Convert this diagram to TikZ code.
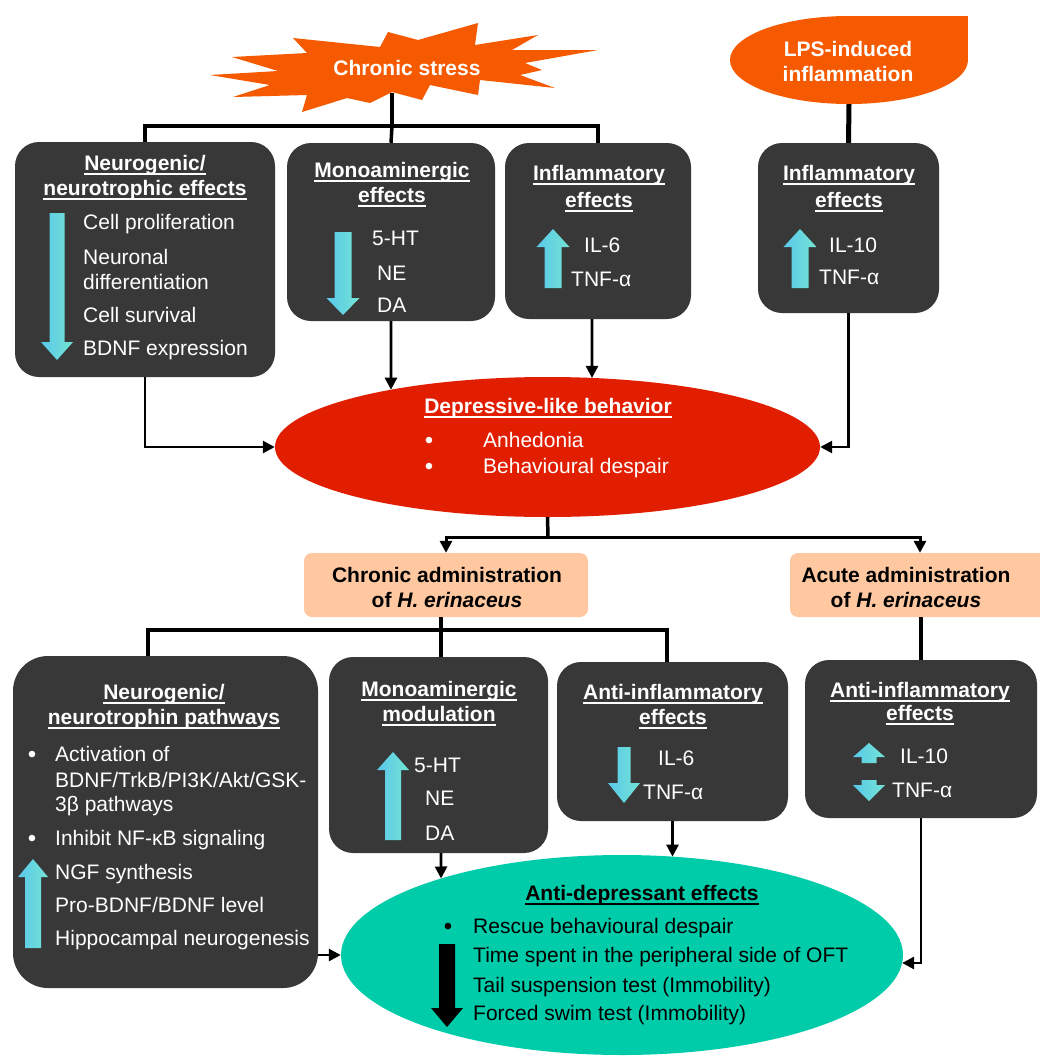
\documentclass[tikz,border=0pt]{standalone}
\usepackage{fontspec}
\setmainfont{Liberation Sans}
\usetikzlibrary{shapes.geometric,arrows.meta,intersections}
\definecolor{orng}{RGB}{245,90,0}
\definecolor{boxg}{RGB}{56,56,56}
\definecolor{redE}{RGB}{225,30,0}
\definecolor{peach}{RGB}{255,200,160}
\definecolor{tealE}{RGB}{0,204,170}
\definecolor{arrL}{RGB}{90,200,235}
\definecolor{arrR}{RGB}{115,228,212}
\newcommand\undl[1]{\setbox0\hbox{#1}\rlap{\rule[-4.5pt]{\wd0}{1.8pt}}\box0}
\newcommand\blkarrow[7][cyanfill]{\path[#1] ({#2-#6},#3) -- ({#2+#6},#3) -- ({#2+#6},#4) -- ({#2+#7},#4) -- (#2,#5) -- ({#2-#7},#4) -- ({#2-#6},#4) -- cycle;}
\tikzset{
  cyanfill/.style={left color=arrL, right color=arrR},
  darkbox/.style={fill=boxg, rounded corners=24pt, inner sep=0pt},
  ttl/.style={font=\fontsize{21}{25}\selectfont\bfseries, text=white, anchor=base, inner sep=0pt},
  itm/.style={font=\fontsize{21}{25}\selectfont, text=white, anchor=base west, inner sep=0pt},
  bul/.style={font=\fontsize{24}{25}\selectfont, text=white, anchor=base, inner sep=0pt},
  stemln/.style={line width=3.5pt},
  arr/.style={line width=2.6pt, -{Triangle[length=12pt,width=12pt]}},
}
\begin{document}
\begin{tikzpicture}[x=1pt,y=-1pt]
\fill[white] (0,0) rectangle (1040,1061);
\useasboundingbox (0,0) rectangle (1040,1061);

% ---------- Chronic stress starburst
\fill[orng] (210,75) -- (278,71) -- (232,57) -- (307,53) -- (293,38) -- (380,47) -- (388,32) -- (418,40) -- (478,23) -- (475,45) -- (538,35) -- (512,50) -- (598,50) -- (525,63) -- (542,70) -- (520,75) -- (555,88) -- (480,80) -- (478,95) -- (430,85) -- (422,100) -- (392,92) -- (370,103) -- (347,98) -- (302,112) -- (307,95) -- (233,97) -- (270,85) -- cycle;
\node[ttl, anchor=center] (cs) at (407,68) {Chronic stress};
\coordinate (csb) at (392,93);
\coordinate (bar1) at (392,126);

% ---------- LPS
\fill[orng] (849,16) rectangle (968,60);
\node[ellipse, fill=orng, minimum width=238pt, minimum height=88pt, inner sep=0pt] (lps) at (849,60) {};
\node[ttl] (lpst1) at (848,56) {LPS-induced};
\node[ttl] (lpst2) at (848,81) {inflammation};

% ---------- upper boxes
\node[darkbox, minimum width=260pt, minimum height=235pt] (box1) at (145,259.5) {};
\node[darkbox, minimum width=208pt, minimum height=178pt] (box2) at (391,232) {};
\node[darkbox, minimum width=186pt, minimum height=176pt] (box3) at (598,231) {};
\node[darkbox, minimum width=181pt, minimum height=170pt] (box4) at (848.5,228) {};

% box1 text
\node[ttl] (b1t1) at (145,170) {\undl{Neurogenic/}};
\node[ttl] (b1t2) at (145,195) {\undl{neurotrophic effects}};
\node[itm] (b1i1) at (83,229) {Cell proliferation};
\node[itm] (b1i2) at (83,264) {Neuronal};
\node[itm] (b1i3) at (83,289) {differentiation};
\node[itm] (b1i4) at (83,322) {Cell survival};
\node[itm] (b1i5) at (83,355) {BDNF expression};
\blkarrow{57}{213}{342}{360}{7.5}{16}

% box2 text
\node[ttl] (b2t1) at (392,177) {\undl{Monoaminergic}};
\node[ttl] (b2t2) at (392,202) {\undl{effects}};
\node[itm] (b2i1) at (372,245) {5-HT};
\node[itm] (b2i2) at (377,280) {NE};
\node[itm] (b2i3) at (377,312) {DA};
\blkarrow{343}{232}{298}{315}{8.5}{16.5}

% box3 text
\node[ttl] (b3t1) at (599,180) {\undl{Inflammatory}};
\node[ttl] (b3t2) at (599,207) {\undl{effects}};
\node[itm] (b3i1) at (584,252) {IL-6};
\node[itm] (b3i2) at (571,286) {TNF-α};
\blkarrow{553}{288}{247}{229}{8.5}{16.5}

% box4 text
\node[ttl] (b4t1) at (849,180) {\undl{Inflammatory}};
\node[ttl] (b4t2) at (849,207) {\undl{effects}};
\node[itm] (b4i1) at (829,252) {IL-10};
\node[itm] (b4i2) at (819,284) {TNF-α};
\blkarrow{800}{288}{247}{229}{8.5}{16.5}

% ---------- depressive ellipse
\node[ellipse, fill=redE, minimum width=545pt, minimum height=140pt, inner sep=0pt] (dep) at (547.5,447) {};
\path[name path=depP] (547.5,447) ellipse [x radius=272.5pt, y radius=70pt];
\node[ttl] (dt) at (548,413) {\undl{Depressive-like behavior}};
\node[bul] (db1) at (429,448) {\textbullet};
\node[itm] (di1) at (483,447) {Anhedonia};
\node[bul] (db2) at (429,474) {\textbullet};
\node[itm] (di2) at (483,473) {Behavioural despair};

% ---------- upper connectors
\draw[stemln] (csb) -- (bar1);
\draw[stemln] (box1.north) |- (bar1) -| (box3.north);
\draw[stemln] (bar1) -- (box2.north);
\draw[line width=5pt] (lps.south) -- (box4.north);
\draw[arr] (box1.south) |- (dep.west);
\draw[arr] (box4.south) |- (dep.east);
\path[name path=v2] (box2.south) -- ++(0,120);
\draw[arr, name intersections={of=depP and v2, by=i2}] (box2.south) -- (i2);
\path[name path=v3] ([xshift=-6pt]box3.south) -- ++(0,120);
\draw[arr, name intersections={of=depP and v3, by=i3}] ([xshift=-6pt]box3.south) -- (i3);

% ---------- administration boxes
\node[fill=peach, rounded corners=8pt, minimum width=284pt, minimum height=64pt, inner sep=0pt] (chr) at (446,585) {};
\node[fill=peach, rounded corners=8pt, minimum width=260pt, minimum height=64pt, inner sep=0pt] (acu) at (920,585) {};
\node[font=\fontsize{21}{25}\selectfont\bfseries, align=center, inner sep=0pt] (chrt) at (447,587) {Chronic administration\\of \textit{H. erinaceus}};
\node[font=\fontsize{21}{25}\selectfont\bfseries, align=center, inner sep=0pt] (acut) at (906,587) {Acute administration\\of \textit{H. erinaceus}};
\coordinate (split) at (548,537);
\draw[stemln] (dep.south) -- (split);
\draw[arr, line width=3pt] (split) -| (chr.north);
\draw[arr, line width=3pt] (split) -| (acu.north);

% ---------- lower boxes
\node[darkbox, rounded corners=35pt, minimum width=305pt, minimum height=332pt] (box5) at (165.5,822) {};
\node[darkbox, minimum width=219pt, minimum height=196pt] (box6) at (438.5,755) {};
\node[darkbox, minimum width=231pt, minimum height=159pt] (box7) at (672.5,741.5) {};
\node[darkbox, minimum width=232pt, minimum height=158pt] (box8) at (921,739) {};

\coordinate (bar2) at (441,630);
\draw[stemln] (chr.south -| bar2) -- (bar2);
\draw[stemln] ([xshift=-17.5pt]box5.north) |- (bar2) -| ([xshift=-5.5pt]box7.north);
\draw[stemln] (bar2) -- (bar2 |- box6.north);
\draw[stemln] (acu.south -| box8.north) -- (box8.north);

% box5 text
\node[ttl] (b5t1) at (164,699) {\undl{Neurogenic/}};
\node[ttl] (b5t2) at (164,724) {\undl{neurotrophin pathways}};
\node[bul] (b5b1) at (32,762) {\textbullet};
\node[itm] (b5i1) at (55,761) {Activation of};
\node[itm] (b5i2) at (55,787) {BDNF/TrkB/PI3K/Akt/GSK-};
\node[itm] (b5i3) at (55,811) {3β pathways};
\node[bul] (b5b2) at (32,846) {\textbullet};
\node[itm] (b5i4) at (55,845) {Inhibit NF-κB signaling};
\node[itm] (b5i5) at (55,879) {NGF synthesis};
\node[itm] (b5i6) at (55,912) {Pro-BDNF/BDNF level};
\node[itm] (b5i7) at (55,945) {Hippocampal neurogenesis};
\blkarrow{33}{948}{877}{859}{8}{15}

% box6 text
\node[ttl] (b6t1) at (439,696) {\undl{Monoaminergic}};
\node[ttl] (b6t2) at (439,721) {\undl{modulation}};
\node[itm] (b6i1) at (414,772) {5-HT};
\node[itm] (b6i2) at (425,805) {NE};
\node[itm] (b6i3) at (425,840) {DA};
\blkarrow{393}{840}{770}{752}{8}{16}

% box7 text
\node[ttl] (b7t1) at (673,699) {\undl{Anti-inflammatory}};
\node[ttl] (b7t2) at (673,724) {\undl{effects}};
\node[itm] (b7i1) at (658,765) {IL-6};
\node[itm] (b7i2) at (643,799) {TNF-α};
\blkarrow{624}{747}{783}{803}{6.5}{16}

% box8 text
\node[ttl] (b8t1) at (920,697) {\undl{Anti-inflammatory}};
\node[ttl] (b8t2) at (920,720) {\undl{effects}};
\node[itm] (b8i1) at (900,763) {IL-10};
\node[itm] (b8i2) at (892,797) {TNF-α};
\blkarrow{869}{763}{757}{743}{7.5}{16}
\blkarrow{869}{780}{785}{801}{7.5}{16}

% ---------- anti-depressant ellipse
\node[ellipse, fill=tealE, minimum width=562pt, minimum height=200pt, inner sep=0pt] (adt) at (622,955) {};
\path[name path=adtP] (622,955) ellipse [x radius=281pt, y radius=100pt];
\node[ttl, text=black] (at) at (642,900) {\undl{Anti-depressant effects}};
\node[bul, text=black] (ab1) at (448,934) {\textbullet};
\node[itm, text=black] (ai1) at (473,933) {Rescue behavioural despair};
\node[itm, text=black] (ai2) at (473,962) {Time spent in the peripheral side of OFT};
\node[itm, text=black] (ai3) at (473,992) {Tail suspension test (Immobility)};
\node[itm, text=black] (ai4) at (473,1020) {Forced swim test (Immobility)};
\blkarrow[fill=black]{447}{944}{1008}{1027}{8}{16}

% ---------- lower connectors
\draw[arr] (box5.east |- adt.west) -- (adt.west);
\path[name path=v6] (bar2 |- box6.south) -- ++(0,100);
\draw[arr, name intersections={of=adtP and v6, by=i6}] (bar2 |- box6.south) -- (i6);
\path[name path=v7] (box7.south) -- ++(0,100);
\draw[arr, name intersections={of=adtP and v7, by=i7}] (box7.south) -- (i7);
\coordinate (y963) at (0,963);
\path[name path=h8] (box8.south |- y963) -- ++(-200,0);
\draw[arr, name intersections={of=adtP and h8, by=i8}] (box8.south) |- (i8);
\end{tikzpicture}
\end{document}
